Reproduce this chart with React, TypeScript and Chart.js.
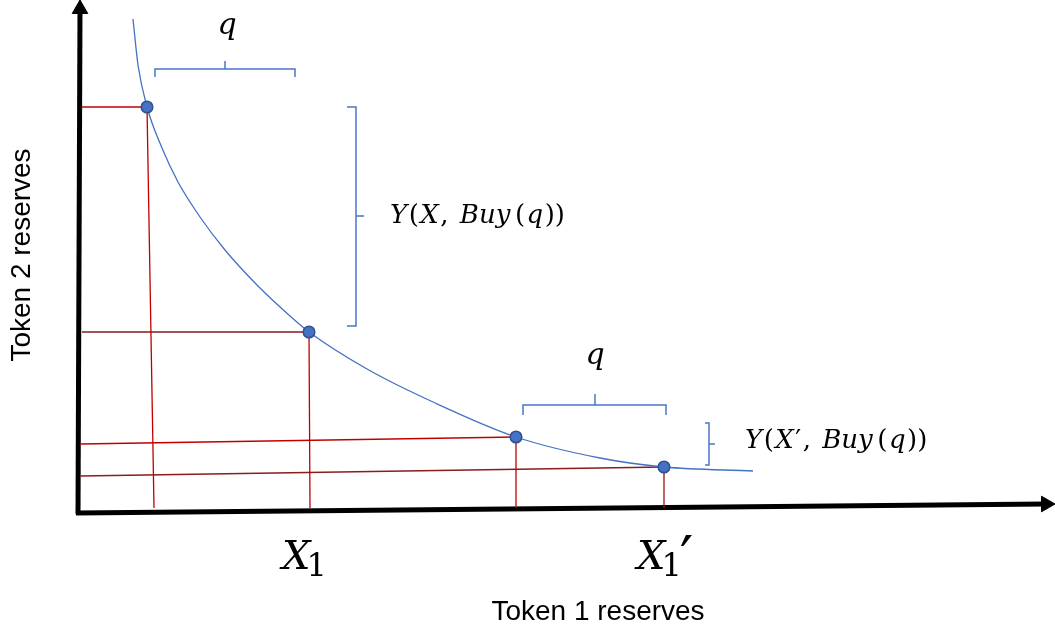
import { useEffect, useRef } from "react";
import { Chart, registerables } from "chart.js";

Chart.register(...registerables);

// Plot frame: x = token 1 reserves, y = token 2 reserves (origin at the axis corner)
const X_MIN = -78;
const X_MAX = 977;
const Y_MIN = -121;
const Y_MAX = 513;

// Bonding curve
const CURVE_X = [55, 60, 69, 84, 100, 122, 147, 179, 212, 231, 289, 355, 438, 522, 586, 675];
const CURVE_Y = [494, 448, 406, 365, 331, 296, 263, 228, 197, 181, 144, 111, 76, 55, 46, 42];

// Trade points on the curve
const POINT_X = [69, 231, 438, 586];
const POINT_Y = [406, 181, 76, 46];

// Drop lines to the axes
const GUIDES = [
  [[4, 406], [69, 406]],
  [[69, 406], [76, 5]],
  [[4, 181], [231, 181]],
  [[231, 181], [232, 5]],
  [[2, 69], [438, 76]],
  [[438, 76], [438, 5]],
  [[2, 37], [586, 46]],
  [[586, 46], [586, 5]],
];
const GUIDE_COLORS = [
  "#c00000", "#c00000", "#7f1d1d", "#c00000",
  "#c00000", "#c00000", "#8b1c1c", "#a01010",
];

// Braces (as polylines)
const BRACES = [
  [[77, 436], [77, 444], [147, 444], [147, 452], [147, 444], [217, 444], [217, 436]],
  [[269, 406], [278, 406], [278, 297], [286, 297], [278, 297], [278, 187], [269, 187]],
  [[445, 98], [445, 108], [517, 108], [517, 119], [517, 108], [588, 108], [588, 98]],
  [[627, 90], [631, 90], [631, 69], [637, 69], [631, 69], [631, 48], [627, 48]],
];

// Axes: start and arrow-head position
const X_AXIS = [[-2, 0], [968, 9]];
const Y_AXIS = [[0, -1], [2, 504]];

// Math labels as runs of [text, italic?]
const BUY_LABEL: [string, boolean][] = [
  ["Y", true], ["(", false], ["X", true], [", ", false],
  ["Buy", true], ["(", false], ["q", true], ["))", false],
];
const BUY_LABEL_PRIME: [string, boolean][] = [
  ["Y", true], ["(", false], ["X", true], ["\u2032", false], [", ", false],
  ["Buy", true], ["(", false], ["q", true], ["))", false],
];

const toXY = (pts: number[][]) => pts.map(([x, y]) => ({ x, y }));

function drawRuns(
  ctx: CanvasRenderingContext2D,
  runs: [string, boolean][],
  x: number,
  y: number,
  size: number
) {
  let cx = x;
  for (const [text, italic] of runs) {
    ctx.font = `${italic ? "italic " : ""}${size}px "DejaVu Serif"`;
    ctx.fillText(text, cx, y);
    cx += ctx.measureText(text).width + 1.5 * text.length;
  }
}

const labelPlugin = {
  id: "diagramLabels",
  afterDatasetsDraw(chart: Chart) {
    const { ctx } = chart;
    const sx = chart.scales.x;
    const sy = chart.scales.y;
    const px = (v: number) => sx.getPixelForValue(v);
    const py = (v: number) => sy.getPixelForValue(v);

    ctx.save();
    ctx.fillStyle = "#000";
    ctx.textBaseline = "middle";

    ctx.textAlign = "center";
    ctx.font = 'italic 30px "DejaVu Serif"';
    ctx.fillText("q", px(149), py(487));
    ctx.fillText("q", px(517), py(157));

    ctx.textAlign = "left";
    drawRuns(ctx, BUY_LABEL, px(312), py(297), 26);
    drawRuns(ctx, BUY_LABEL_PRIME, px(667), py(72), 26);

    // X1 and X1'
    const drawX1 = (left: number, prime: boolean) => {
      ctx.textBaseline = "alphabetic";
      const baseY = py(-56);
      ctx.font = 'italic 40px "DejaVu Serif"';
      ctx.fillText("X", px(left), baseY);
      const w = ctx.measureText("X").width;
      ctx.font = '32px "DejaVu Serif"';
      ctx.fillText("1", px(left) + w - 4, baseY + 7);
      if (prime) {
        const w1 = ctx.measureText("1").width;
        ctx.font = '60px "DejaVu Sans"';
        ctx.fillText("\u2032", px(left) + w + w1 - 6, baseY + 10);
      }
      ctx.textBaseline = "middle";
    };
    drawX1(204, false);
    drawX1(559, true);

    ctx.font = '28px "Liberation Sans"';
    ctx.textAlign = "center";
    ctx.fillText("Token 1 reserves", px(520), py(-99));

    ctx.translate(px(-56), py(258));
    ctx.rotate(-Math.PI / 2);
    ctx.fillText("Token 2 reserves", 0, 0);
    ctx.restore();
  },
};

export default function App() {
  const canvasRef = useRef<HTMLCanvasElement>(null);
  const chartRef = useRef<Chart | null>(null);

  useEffect(() => {
    document.body.style.margin = "0";
    if (!canvasRef.current) return;
    const ctx = canvasRef.current.getContext("2d");
    if (!ctx) return;

    const lineSet = (data: { x: number; y: number }[], color: string, width: number) => ({
      data,
      showLine: true,
      borderColor: color,
      borderWidth: width,
      pointRadius: 0,
      fill: false,
      clip: false as const,
    });

    const axisSet = (pts: number[][], rotation: number) => ({
      data: toXY(pts),
      showLine: true,
      borderColor: "#000",
      borderWidth: 5,
      pointRadius: [0, 9],
      pointStyle: "triangle" as const,
      pointRotation: rotation,
      pointBackgroundColor: "#000",
      pointBorderColor: "#000",
      pointBorderWidth: 1,
      clip: false as const,
    });

    const curveData = CURVE_X.map((x, i) => ({ x, y: CURVE_Y[i] }));
    const pointData = POINT_X.map((x, i) => ({ x, y: POINT_Y[i] }));

    chartRef.current = new Chart(ctx, {
      type: "scatter",
      data: {
        datasets: [
          {
            data: pointData,
            showLine: false,
            pointRadius: 5.8,
            pointBackgroundColor: "#4472c4",
            pointBorderColor: "#2f528f",
            pointBorderWidth: 1.5,
            clip: false as const,
          },
          {
            ...lineSet(curveData, "#4472c4", 1.3),
            cubicInterpolationMode: "monotone" as const,
          },
          ...BRACES.map((b) => lineSet(toXY(b), "#4a78c8", 1.5)),
          ...GUIDES.map((g, i) => lineSet(toXY(g), GUIDE_COLORS[i], 1.3)),
          axisSet(X_AXIS, 90),
          axisSet(Y_AXIS, 0),
        ],
      },
      options: {
        animation: false,
        responsive: true,
        maintainAspectRatio: false,
        events: [],
        layout: { padding: 0, autoPadding: false },
        plugins: {
          legend: { display: false },
          tooltip: { enabled: false },
        },
        scales: {
          x: { type: "linear", min: X_MIN, max: X_MAX, display: false },
          y: { type: "linear", min: Y_MIN, max: Y_MAX, display: false },
        },
      },
      plugins: [labelPlugin],
    });

    return () => {
      if (chartRef.current) {
        chartRef.current.destroy();
        chartRef.current = null;
      }
    };
  }, []);

  return (
    <div style={{ position: "relative", width: "1055px", height: "634px", background: "#fff" }}>
      <canvas ref={canvasRef} />
    </div>
  );
}
